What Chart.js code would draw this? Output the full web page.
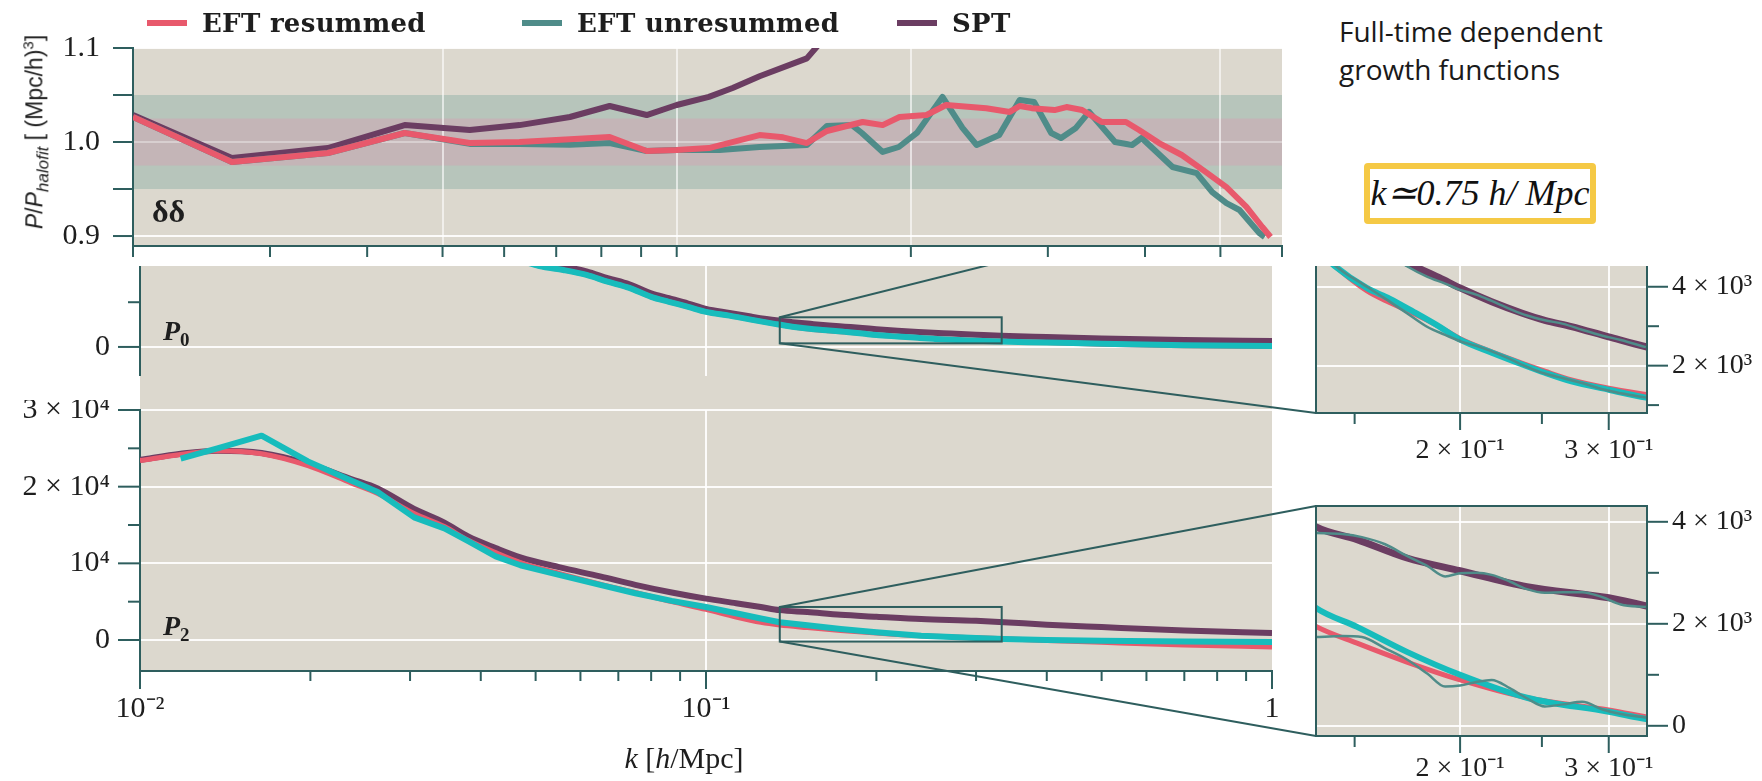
<!DOCTYPE html>
<html>
<head>
<meta charset="utf-8">
<title>EFT vs SPT multipoles</title>
<script src="https://cdn.jsdelivr.net/npm/chart.js@4.4.1/dist/chart.umd.min.js"></script>
<style>
  body { margin: 0; width: 1762px; height: 781px; background: #fff; position: relative; overflow: hidden; font-family: 'Liberation Serif', serif; color: #1e1e1e; }
  canvas { position: absolute; }
  .clip { position: absolute; overflow: hidden; }
  .txt { position: absolute; white-space: nowrap; z-index: 5; }
  .lg { position: absolute; top: 8px; height: 30px; display: flex; align-items: center; white-space: nowrap; z-index: 5; }
  .lg .sw { width: 40px; height: 6px; margin-right: 15px; }
  .lg .tx { font: bold 26px 'DejaVu Serif', serif; color: #1e1e1e; letter-spacing: 0.3px; }
  #gap { position: absolute; left: 140px; top: 376px; width: 1132px; height: 34px; background: #dcd8ce; }
  #kbox { position: absolute; left: 1364px; top: 163px; width: 220px; height: 49px; border: 6px solid #f5c945; border-radius: 4px; background: #fff;
          font: italic 36px 'Liberation Serif', serif; line-height: 49px; text-align: center; color: #111; z-index: 5; }
</style>
</head>
<body>

<div id="legend"></div>
<div class="txt" style="left:36px;top:132px;transform:translate(-50%,-50%) rotate(-90deg);font:23px 'Liberation Sans',sans-serif;">
  <i>P</i>/<i>P<sub style="font-size:17px">halofit</sub></i> [ (Mpc/h)<sup style="font-size:15px">3</sup>]
</div>
<div class="txt" style="left:152px;top:195px;font:bold 32px 'Liberation Serif',serif;line-height:32px;">δδ</div>

<canvas id="topChart" width="1300" height="266" style="left:0;top:0;"></canvas>

<canvas id="p0Chart" width="1290" height="110" style="left:0;top:266px;"></canvas>
<div id="gap"></div>
<canvas id="p2Chart" width="1290" height="381" style="left:0;top:400px;"></canvas>

<div class="clip" style="left:1290px;top:266px;width:472px;height:200px;">
  <canvas id="p0Inset" width="472" height="293" style="left:0;top:-93px;"></canvas>
</div>
<canvas id="p2Inset" width="472" height="285" style="left:1290px;top:496px;"></canvas>

<canvas id="overlay" width="1762" height="515" style="left:0;top:266px;pointer-events:none;"></canvas>

<div class="txt" style="left:163px;top:317px;font:bold italic 28px 'Liberation Serif',serif;line-height:28px;">P<span style="font-size:19px;position:relative;top:6px;font-style:normal;">0</span></div>
<div class="txt" style="left:163px;top:612px;font:bold italic 28px 'Liberation Serif',serif;line-height:28px;">P<span style="font-size:19px;position:relative;top:6px;font-style:normal;">2</span></div>
<div class="txt" style="left:534px;width:300px;text-align:center;top:743px;font:30px 'Liberation Serif',serif;line-height:30px;"><i>k</i> [<i>h</i>/Mpc]</div>

<div class="txt" style="left:1339px;top:12px;font:28px 'Open Sans',sans-serif;line-height:38px;color:#1a1a1a;">Full-time dependent<br>growth functions</div>
<div id="kbox"><i>k</i>≃0.75 <i>h</i>/ <i>Mpc</i></div>

<script>
// ---------- ratio panel (P / P_halofit, δδ) ----------
const kResummed = [0.02, 0.0268, 0.0356, 0.0447, 0.0542, 0.0628, 0.0729, 0.082, 0.0915, 0.1, 0.11, 0.1278, 0.137, 0.147, 0.156, 0.1734, 0.184, 0.1934, 0.2095, 0.222, 0.25, 0.268, 0.276, 0.286, 0.306, 0.317, 0.332, 0.352, 0.378, 0.393, 0.417, 0.446, 0.479, 0.509, 0.54, 0.566, 0.58];
const ratioResummed = [1.0266, 0.9787, 0.9883, 1.0096, 0.9989, 1.0, 1.003, 1.0053, 0.9904, 0.9915, 0.9936, 1.0074, 1.005, 0.9989, 1.0117, 1.0213, 1.018, 1.0266, 1.0287, 1.0394, 1.036, 1.032, 1.0383, 1.036, 1.034, 1.0372, 1.034, 1.0213, 1.0213, 1.0128, 0.9989, 0.9862, 0.968, 0.952, 0.931, 0.9096, 0.899];
const kUnresummed = [0.02, 0.0268, 0.0356, 0.0447, 0.0542, 0.0628, 0.0729, 0.082, 0.0915, 0.1, 0.1135, 0.1278, 0.147, 0.156, 0.168, 0.173, 0.184, 0.193, 0.2036, 0.2196, 0.233, 0.243, 0.2598, 0.276, 0.288, 0.303, 0.312, 0.326, 0.339, 0.366, 0.385, 0.396, 0.434, 0.466, 0.488, 0.509, 0.529, 0.561, 0.57];
const ratioUnresummed = [1.0266, 0.9787, 0.9883, 1.0096, 0.998, 0.998, 0.997, 0.999, 0.9904, 0.9915, 0.9915, 0.9947, 0.9968, 1.017, 1.018, 1.0096, 0.9894, 0.9947, 1.0096, 1.048, 1.015, 0.9968, 1.0074, 1.0447, 1.0426, 1.0096, 1.0043, 1.015, 1.032, 1.0, 0.9968, 1.0043, 0.9734, 0.967, 0.9468, 0.935, 0.9277, 0.9032, 0.899];
const kSpt = [0.02, 0.0268, 0.0356, 0.0447, 0.0542, 0.0628, 0.0729, 0.082, 0.0915, 0.1, 0.11, 0.118, 0.1278, 0.147, 0.1513, 0.156];
const ratioSpt = [1.0287, 0.983, 0.9936, 1.018, 1.0128, 1.018, 1.0266, 1.0383, 1.0287, 1.0394, 1.048, 1.0574, 1.07, 1.089, 1.101, 1.115];
const ratioBands = [[0.95, 1.05], [0.975, 1.025]];
const ratioMajor = [0.9, 1.0, 1.1];
const ratioLabels = ['0.9', '1.0', '1.1'];
const ratioMinor = [0.95, 1.05];
const ratioKTicks = [0.02, 0.03, 0.04, 0.05, 0.06, 0.07, 0.08, 0.09, 0.1, 0.2, 0.3, 0.4, 0.5, 0.6];
const ratioKGrid = [0.05, 0.1, 0.2, 0.5];

// ---------- multipoles P0 / P2 ----------
const kMain = [0.01, 0.0118, 0.0137, 0.0164, 0.0198, 0.0236, 0.0263, 0.0305, 0.0345, 0.038, 0.0425, 0.047, 0.055, 0.065, 0.075, 0.087, 0.1, 0.113, 0.125, 0.135, 0.151, 0.173, 0.2, 0.24, 0.3, 0.336, 0.4, 0.5, 0.7, 1.0];
const p2Resummed = [23400, 24200, 24700, 24300, 22750, 20500, 19100, 16500, 14800, 13000, 11400, 10100, 8700, 7300, 6200, 5000, 4000, 3000, 2300, 1950, 1620, 1250, 900, 550, 310, 160, -50, -300, -650, -910];
const p2Unresummed = [null, 23660, 25000, 26650, 23300, 20800, 19300, 16000, 14560, 12900, 10900, 9750, 8500, 7200, 6100, 5100, 4300, 3500, 2800, 2310, 1940, 1450, 1000, 550, 275, 120, 0, -100, -200, -260];
const p2Spt = [23500, 24300, 24700, 24400, 23000, 21000, 19760, 17100, 15300, 13500, 12000, 10790, 9500, 8300, 7200, 6200, 5400, 4800, 4300, 3900, 3650, 3290, 3040, 2730, 2510, 2330, 2000, 1690, 1250, 910];

const kP0 = [0.04, 0.045, 0.0508, 0.056, 0.0615, 0.067, 0.0732, 0.08, 0.086, 0.093, 0.1, 0.11, 0.12, 0.133, 0.142, 0.155, 0.165, 0.176, 0.189, 0.2, 0.218, 0.237, 0.252, 0.271, 0.3, 0.332, 0.4, 0.5, 0.7, 1.0];
const p0Unresummed = [22500, 20200, 18100, 17200, 16100, 14600, 13200, 11200, 10100, 8960, 7840, 7000, 6100, 5100, 4530, 3970, 3700, 3370, 2990, 2660, 2330, 2030, 1820, 1600, 1390, 1190, 1000, 700, 400, 200];
const p0Resummed = [22500, 20200, 18100, 17200, 16100, 14600, 13200, 11200, 10100, 8960, 7840, 7000, 6100, 5100, 4530, 3900, 3600, 3330, 2990, 2680, 2350, 2060, 1860, 1640, 1430, 1270, 1000, 600, 250, 100];
const p0Spt = [23500, 21200, 19000, 18000, 16900, 15400, 14000, 12000, 10900, 9700, 8500, 7600, 6800, 5950, 5550, 5100, 4800, 4530, 4230, 3970, 3620, 3330, 3150, 2990, 2730, 2480, 2200, 1900, 1550, 1300];

// oscillating (no IR resummation) curves seen in the zoomed insets
const kWiggle = [0.135, 0.145, 0.153, 0.163, 0.173, 0.183, 0.192, 0.2, 0.209, 0.218, 0.229, 0.24, 0.252, 0.265, 0.279, 0.295, 0.31, 0.332];
const p2SptWiggle = [3780, 3760, 3700, 3560, 3330, 3130, 2930, 2990, 3000, 2960, 2830, 2680, 2610, 2620, 2620, 2520, 2380, 2330];
const p2EftWiggle = [1740, 1760, 1740, 1520, 1300, 1020, 770, 790, 860, 900, 740, 540, 380, 420, 470, 320, 230, 160];
const p0SptWiggle = [5800, 5420, 5200, 4880, 4520, 4250, 4080, 3920, 3800, 3640, 3440, 3270, 3150, 3060, 2910, 2760, 2650, 2470];
const p0EftWiggle = [4950, 4400, 4080, 3700, 3330, 2980, 2780, 2620, 2500, 2360, 2170, 1970, 1800, 1680, 1560, 1400, 1300, 1190];

// ticks
const mainKMajor = [0.01, 0.1, 1];
const mainKLabels = ['10⁻²', '10⁻¹', '1'];
const mainKMinor = [0.02, 0.03, 0.04, 0.05, 0.06, 0.07, 0.08, 0.09, 0.2, 0.3, 0.4, 0.5, 0.6, 0.7, 0.8, 0.9];
const p2Major = [0, 10000, 20000, 30000];
const p2Labels = ['0', '10⁴', '2 × 10⁴', '3 × 10⁴'];
const p2Minor = [5000, 15000, 25000];
const p0Major = [0];
const p0Labels = ['0'];
const p0Minor = [10000];

// insets
const insetK = [0.135, 0.333];
const p0InsetRange = [800, 6630];
const p2InsetRange = [-200, 4310];
const insetKMajor = [0.2, 0.3];
const insetKLabels = ['2 × 10⁻¹', '3 × 10⁻¹'];
const insetKMinor = [0.15, 0.25];
const p0InsetMajor = [2000, 4000, 6000];
const p0InsetLabels = ['2 × 10³', '4 × 10³', '6 × 10³'];
const p0InsetMinor = [1000, 3000, 5000];
const p2InsetMajor = [0, 2000, 4000];
const p2InsetLabels = ['0', '2 × 10³', '4 × 10³'];
const p2InsetMinor = [1000, 3000];

// ---------- style ----------
const PANEL_BG = '#dcd8ce';
const GRID = 'rgba(255,255,255,0.9)';
const GRID_SOFT = 'rgba(255,255,255,0.6)';
const AXIS = '#2e5e5e';
const INK = '#1e1e1e';
const RED = '#e8596c';
const TEAL = '#4f8c89';
const PURPLE = '#6b3d62';
const CYAN = '#17bcbc';
const BAND_COLORS = ['#b7c5bb', '#c4b5b7'];
const LEGEND_X = [147, 522, 897];

const near = (a, b) => Math.abs(a - b) <= Math.abs(b) * 1e-6 + 1e-9;

function line(label, ks, vs, color, width, order, smooth) {
  return {
    label,
    data: ks.map((k, i) => ({ x: k, y: vs[i] })).filter(p => p.y !== null),
    borderColor: color, backgroundColor: color, borderWidth: width,
    pointRadius: 0, fill: false, order, clip: 0,
    tension: 0, cubicInterpolationMode: smooth ? 'monotone' : 'default',
    borderJoinStyle: 'round', borderCapStyle: 'butt'
  };
}

function axis(o) {
  const all = [...o.major, ...(o.minor || [])].sort((a, b) => a - b);
  return {
    type: o.type || 'linear', position: o.position, min: o.min, max: o.max,
    afterBuildTicks: s => { s.ticks = all.map(v => ({ value: v })); },
    afterFit: s => {
      if (s.isHorizontal()) s.height = o.size; else s.width = o.size;
      // keep the chart area exactly where the padding puts it
      s.paddingTop = s.paddingBottom = s.paddingLeft = s.paddingRight = 0;
    },
    ticks: {
      display: !!o.labels, autoSkip: false, maxRotation: 0, minRotation: 0,
      padding: o.padding || 0, color: INK,
      font: { family: 'Liberation Serif', size: o.fontSize || 30 },
      callback: v => {
        if (!o.labels) return '';
        const i = o.major.findIndex(m => near(v, m));
        return i < 0 ? '' : o.labels[i];
      }
    },
    grid: {
      drawTicks: false, lineWidth: 2,
      color: c => {
        const g = (o.grid || []).find(e => near(c.tick.value, e[0]));
        return g ? g[1] : 'transparent';
      }
    },
    border: { display: o.border !== false, color: AXIS, width: 2 }
  };
}

// plugins
function panelBg(bands) {
  return {
    id: 'panelBg',
    beforeDraw(chart) {
      const { ctx, chartArea: a, scales } = chart;
      ctx.save();
      ctx.fillStyle = PANEL_BG;
      ctx.fillRect(a.left, a.top, a.width, a.height);
      (bands || []).forEach(([lo, hi], i) => {
        const y1 = scales.y.getPixelForValue(hi), y2 = scales.y.getPixelForValue(lo);
        ctx.fillStyle = BAND_COLORS[i];
        ctx.fillRect(a.left, y1, a.width, y2 - y1);
      });
      ctx.restore();
    }
  };
}

function tickMarks(list) {
  return {
    id: 'tickMarks',
    afterDraw(chart) {
      const { ctx, chartArea: a } = chart;
      ctx.save();
      ctx.strokeStyle = AXIS;
      ctx.lineWidth = 2;
      list.forEach(([id, values, len]) => {
        const s = chart.scales[id];
        values.forEach(v => {
          const p = s.getPixelForValue(v);
          ctx.beginPath();
          if (s.isHorizontal()) { ctx.moveTo(p, a.bottom); ctx.lineTo(p, a.bottom + len); }
          else if (s.position === 'right') { ctx.moveTo(a.right, p); ctx.lineTo(a.right + len, p); }
          else { ctx.moveTo(a.left, p); ctx.lineTo(a.left - len, p); }
          ctx.stroke();
        });
      });
      ctx.restore();
    }
  };
}

const frame = {
  id: 'frame',
  afterDraw(chart) {
    const { ctx, chartArea: a } = chart;
    ctx.save();
    ctx.strokeStyle = AXIS;
    ctx.lineWidth = 2;
    ctx.strokeRect(a.left, a.top, a.width, a.height);
    ctx.restore();
  }
};

function zoomRect(kr, yr) {
  return {
    id: 'zoomRect',
    afterDatasetsDraw(chart) {
      const { ctx, scales: { x, y } } = chart;
      const x1 = x.getPixelForValue(kr[0]), x2 = x.getPixelForValue(kr[1]);
      const y1 = y.getPixelForValue(yr[1]), y2 = y.getPixelForValue(yr[0]);
      ctx.save();
      ctx.strokeStyle = AXIS;
      ctx.lineWidth = 2;
      ctx.strokeRect(x1, y1, x2 - x1, y2 - y1);
      ctx.restore();
    }
  };
}

function makeChart(id, datasets, scales, plugins, padding) {
  return new Chart(document.getElementById(id), {
    type: 'line',
    data: { datasets },
    options: {
      responsive: false, animation: false, devicePixelRatio: 1, events: [],
      layout: { padding },
      plugins: { legend: { display: false }, tooltip: { enabled: false } },
      scales
    },
    plugins
  });
}

// ---------- ratio panel ----------
const topChart = makeChart('topChart', [
  line('EFT resummed', kResummed, ratioResummed, RED, 6, 0, false),
  line('EFT unresummed', kUnresummed, ratioUnresummed, TEAL, 6, 1, false),
  line('SPT', kSpt, ratioSpt, PURPLE, 6, 2, false)
], {
  x: axis({ type: 'logarithmic', position: 'bottom', min: 0.02, max: 0.6, major: ratioKTicks, size: 20,
            grid: ratioKGrid.map(v => [v, GRID_SOFT]) }),
  y: axis({ position: 'left', min: 0.8894, max: 1.1, major: ratioMajor, labels: ratioLabels, minor: ratioMinor,
            size: 133, padding: 33, grid: [[0.9, GRID], [1.0, 'rgba(255,255,255,0.35)'], [1.1, GRID]] })
}, [panelBg(ratioBands), tickMarks([['x', ratioKTicks, 11], ['y', [...ratioMajor, ...ratioMinor], 20]])],
{ top: 48, right: 18, left: 0, bottom: 0 });

// legend
const legendEl = document.getElementById('legend');
topChart.data.datasets.forEach((d, i) => {
  const item = document.createElement('div');
  item.className = 'lg';
  item.style.left = LEGEND_X[i] + 'px';
  item.innerHTML = '<span class="sw" style="background:' + d.borderColor + '"></span><span class="tx">' + d.label + '</span>';
  legendEl.appendChild(item);
});

// ---------- P0 main ----------
const p0Chart = makeChart('p0Chart', [
  line('SPT', kP0, p0Spt, PURPLE, 6, 3, true),
  line('EFT resummed', kP0, p0Resummed, RED, 5, 2, true),
  line('EFT', kP0, p0Unresummed, CYAN, 6, 1, true)
], {
  x: axis({ type: 'logarithmic', position: 'bottom', min: 0.01, max: 1, major: mainKMajor, size: 0,
            border: false, grid: [[0.1, GRID]] }),
  y: axis({ position: 'left', min: -6500, max: 18100, major: p0Major, labels: p0Labels, minor: p0Minor,
            size: 140, padding: 30, grid: [[0, GRID]] })
}, [panelBg(), tickMarks([['y', p0Major, 22], ['y', p0Minor, 12]]), zoomRect(insetK, p0InsetRange)],
{ top: 0, right: 18, left: 0, bottom: 0 });

// ---------- P2 main ----------
const p2Chart = makeChart('p2Chart', [
  line('SPT', kMain, p2Spt, PURPLE, 6, 3, true),
  line('EFT resummed', kMain, p2Resummed, RED, 5, 2, true),
  line('EFT', kMain, p2Unresummed, CYAN, 6, 1, false)
], {
  x: axis({ type: 'logarithmic', position: 'bottom', min: 0.01, max: 1, major: mainKMajor, labels: mainKLabels,
            minor: mainKMinor, size: 110, padding: 20, grid: [[0.1, GRID]] }),
  y: axis({ position: 'left', min: -4040, max: 30000, major: p2Major, labels: p2Labels, minor: p2Minor,
            size: 140, padding: 30, grid: p2Major.map(v => [v, GRID]) })
}, [panelBg(), tickMarks([['x', mainKMajor, 18], ['x', mainKMinor, 10], ['y', p2Major, 22], ['y', p2Minor, 12]]),
    zoomRect(insetK, p2InsetRange)],
{ top: 10, right: 18, left: 0, bottom: 0 });

// ---------- insets ----------
function insetChart(id, sets, range, major, labels, minor, xSize, xPad) {
  return makeChart(id, sets, {
    x: axis({ type: 'logarithmic', position: 'bottom', min: insetK[0], max: insetK[1], major: insetKMajor,
              labels: insetKLabels, minor: insetKMinor, size: xSize, padding: xPad, fontSize: 28,
              grid: insetKMajor.map(v => [v, GRID]) }),
    y: axis({ position: 'right', min: range[0], max: range[1], major, labels, minor, size: 115, padding: 25,
              fontSize: 28, grid: major.map(v => [v, GRID]) })
  }, [panelBg(), tickMarks([['x', insetKMajor, 17], ['x', insetKMinor, 11], ['y', major, 21], ['y', minor, 12]]), frame],
  { top: 10, right: 0, left: 26, bottom: 0 });
}

const p0Inset = insetChart('p0Inset', [
  line('SPT unresummed', kWiggle, p0SptWiggle, TEAL, 2.5, 0, true),
  line('EFT unresummed', kWiggle, p0EftWiggle, TEAL, 2.5, 0, true),
  line('SPT', kP0, p0Spt, PURPLE, 7, 3, true),
  line('EFT resummed', kP0, p0Resummed, RED, 5, 2, true),
  line('EFT', kP0, p0Unresummed, CYAN, 6, 1, true)
], p0InsetRange, p0InsetMajor, p0InsetLabels, p0InsetMinor, 53, 21);

const p2Inset = insetChart('p2Inset', [
  line('SPT unresummed', kWiggle, p2SptWiggle, TEAL, 2.5, 0, true),
  line('EFT unresummed', kWiggle, p2EftWiggle, TEAL, 2.5, 0, true),
  line('SPT', kMain, p2Spt, PURPLE, 7, 3, true),
  line('EFT resummed', kMain, p2Resummed, RED, 5, 2, true),
  line('EFT', kMain, p2Unresummed, CYAN, 6, 1, true)
], p2InsetRange, p2InsetMajor, p2InsetLabels, p2InsetMinor, 45, 16);

// ---------- zoom connectors (from main-panel boxes to inset corners) ----------
const ov = document.getElementById('overlay');
const octx = ov.getContext('2d');
function connect(main, inset, yr) {
  const o = ov.getBoundingClientRect(), m = main.canvas.getBoundingClientRect(), n = inset.canvas.getBoundingClientRect();
  const x0 = main.scales.x.getPixelForValue(insetK[0]) + m.left - o.left;
  const yTop = main.scales.y.getPixelForValue(yr[1]) + m.top - o.top;
  const yBot = main.scales.y.getPixelForValue(yr[0]) + m.top - o.top;
  const a = inset.chartArea;
  const xi = a.left + n.left - o.left;
  octx.strokeStyle = AXIS;
  octx.lineWidth = 2;
  octx.beginPath();
  octx.moveTo(x0, yTop); octx.lineTo(xi, a.top + n.top - o.top);
  octx.moveTo(x0, yBot); octx.lineTo(xi, a.bottom + n.top - o.top);
  octx.stroke();
}
connect(p0Chart, p0Inset, p0InsetRange);
connect(p2Chart, p2Inset, p2InsetRange);
</script>
</body>
</html>
